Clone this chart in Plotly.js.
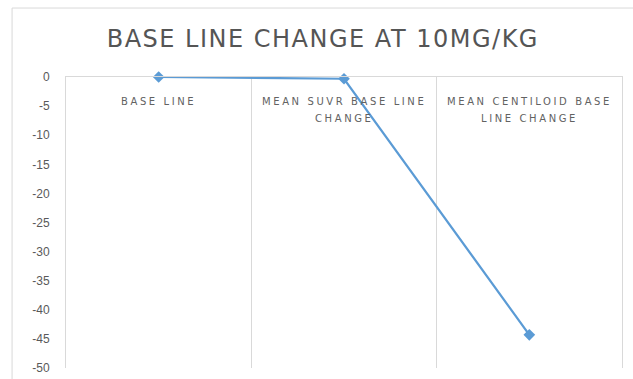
<!DOCTYPE html>
<html><head><meta charset="utf-8">
<script src="https://cdn.plot.ly/plotly-3.0.1.min.js"></script>
<style>html,body{margin:0;padding:0;background:#fff;}#chart{width:633px;height:379px;}</style>
</head><body><div id="chart"></div>
<script>
var categories = ["BASE LINE", "MEAN SUVR BASE LINE<br>CHANGE", "MEAN CENTILOID BASE<br>LINE CHANGE"];
var values = [0, -0.3, -44.3];
var yTicks = [0, -5, -10, -15, -20, -25, -30, -35, -40, -45, -50];
var titleText = 'BASE LINE CHANGE AT 10MG/KG';

function spaced(t, px) {
  return '<span style="letter-spacing:' + px + 'px">' + t + '</span>';
}

var idx = categories.map(function(_, i){ return i; });
var trace = {
  x: idx, y: values, type: 'scatter', mode: 'lines+markers',
  line: {color: '#5B9BD5', width: 2.25},
  marker: {symbol: 'diamond', size: 9, color: '#5B9BD5'},
  cliponaxis: false
};
var annotations = [];
categories.forEach(function(c, i){
  c.split('<br>').forEach(function(line, k){
    annotations.push({x: i, xref: 'x', y: 1, yref: 'paper', yanchor: 'middle', xanchor: 'center',
          yshift: -24 - 17 * k,
          text: spaced(line, 2.6), showarrow: false, align: 'center',
          font: {family: 'DejaVu Sans, sans-serif', size: 10, color: '#626262'}});
  });
});
var layout = {
  width: 633, height: 379,
  margin: {l: 66, r: 11, t: 77, b: 11},
  paper_bgcolor: '#fff', plot_bgcolor: '#fff',
  showlegend: false,
  title: {text: spaced(titleText, 1.5), x: 0.51, xanchor: 'center', y: 0.897, yanchor: 'middle',
          font: {family: 'DejaVu Sans, sans-serif', size: 24, color: '#555555'}},
  xaxis: {
    type: 'linear', range: [-0.5, 2.5], side: 'top', showticklabels: false,
    tickvals: idx, ticks: '', showgrid: false,
    minor: {tickvals: [-0.5, 0.5, 1.5, 2.5], showgrid: true, gridcolor: '#D9D9D9', gridwidth: 1, ticks: ''},
    showline: true, linecolor: '#D9D9D9', linewidth: 1,
    zeroline: false, fixedrange: true
  },
  yaxis: {
    range: [-50, 0], tickvals: yTicks, ticktext: yTicks.map(String), showgrid: false,
    zeroline: false, showline: true, mirror: true, linecolor: '#D9D9D9', linewidth: 1,
    ticks: '', ticklabelstandoff: 13,
    tickfont: {family: 'Liberation Sans, Arial, sans-serif', size: 12, color: '#595959'}
  },
  annotations: annotations,
  shapes: [
    {type: 'rect', xref: 'paper', yref: 'paper', x0: -0.097, x1: 1.1, y0: -0.2, y1: 1.237,
     line: {color: '#D9D9D9', width: 1}, fillcolor: 'rgba(0,0,0,0)'}
  ]
};
Plotly.newPlot('chart', [trace], layout, {displayModeBar: false, staticPlot: true});
</script></body></html>
